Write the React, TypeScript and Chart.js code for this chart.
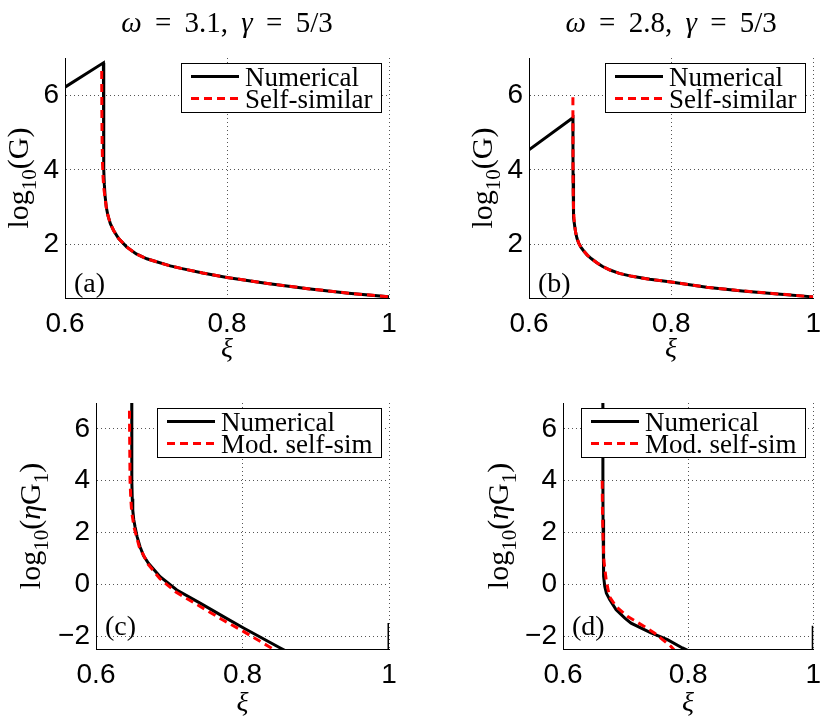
import { Chart, registerables } from "chart.js";
import { useEffect, useRef } from "react";

Chart.register(...registerables);

// ---- values ----
const xiTicks = [0.6, 0.8, 1];
const gTicks = [2, 4, 6];
const etaTicks = [-2, 0, 2, 4, 6];
const omegas = [3.1, 2.8];
const gammaText = "5/3";
const legendTop = ["Numerical", "Self-similar"];
const legendBottom = ["Numerical", "Mod. self-sim"];
const panelTags = ["(a)", "(b)", "(c)", "(d)"];

// (a) omega = 3.1, log10(G)
const aNumXi = [0.6, 0.6474, 0.6476, 0.6478, 0.6481, 0.6486, 0.6495, 0.651, 0.653, 0.656, 0.66, 0.666, 0.676, 0.688, 0.701, 0.713, 0.73, 0.746, 0.77, 0.8, 0.85, 0.9, 0.95, 1.0];
const aNumG = [6.22, 6.87, 5.6, 4.6, 4.0, 3.6, 3.3, 3.0, 2.78, 2.56, 2.38, 2.17, 1.94, 1.75, 1.62, 1.54, 1.43, 1.35, 1.24, 1.12, 0.96, 0.82, 0.7, 0.6];
const aSimXi = [0.6453, 0.6455, 0.6458, 0.6463, 0.647, 0.648, 0.6495, 0.651, 0.653, 0.656, 0.66, 0.666, 0.676, 0.688, 0.701, 0.713, 0.73, 0.746, 0.77, 0.8, 0.85, 0.9, 0.95, 1.0];
const aSimG = [6.65, 5.6, 4.8, 4.2, 3.8, 3.5, 3.25, 3.0, 2.78, 2.56, 2.38, 2.17, 1.94, 1.75, 1.62, 1.54, 1.43, 1.35, 1.24, 1.12, 0.96, 0.82, 0.7, 0.6];

// (b) omega = 2.8, log10(G)
const bNumXi = [0.6, 0.6618, 0.6619, 0.662, 0.6622, 0.6626, 0.6633, 0.6643, 0.6657, 0.6675, 0.67, 0.673, 0.677, 0.682, 0.688, 0.695, 0.703, 0.714, 0.727, 0.745, 0.77, 0.8, 0.85, 0.9, 0.95, 1.0];
const bNumG = [4.54, 5.4, 4.6, 3.9, 3.4, 3.0, 2.72, 2.5, 2.32, 2.17, 2.04, 1.93, 1.83, 1.72, 1.62, 1.52, 1.42, 1.32, 1.23, 1.15, 1.07, 1.0, 0.86, 0.76, 0.68, 0.6];
const bSimXi = [0.6618, 0.6618, 0.6619, 0.662, 0.6622, 0.6626, 0.6633, 0.6643, 0.6657, 0.6675, 0.67, 0.673, 0.677, 0.682, 0.688, 0.695, 0.703, 0.714, 0.727, 0.745, 0.77, 0.8, 0.85, 0.9, 0.95, 1.0];
const bSimG = [5.95, 5.4, 4.6, 3.9, 3.4, 3.0, 2.72, 2.5, 2.32, 2.17, 2.04, 1.93, 1.83, 1.72, 1.62, 1.52, 1.42, 1.32, 1.23, 1.15, 1.07, 1.0, 0.86, 0.76, 0.68, 0.6];

// (c) omega = 3.1, log10(eta G1)
const cNumXi = [0.6488, 0.6488, 0.649, 0.6495, 0.6502, 0.6515, 0.6533, 0.656, 0.6601, 0.665, 0.6716, 0.6875, 0.7103, 0.7421, 0.774, 0.8014, 0.8516, 0.9, 0.95, 1.0, 1.0];
const cNumEta = [7.2, 5.5, 4.0, 3.3, 2.86, 2.5, 2.22, 1.85, 1.45, 1.1, 0.81, 0.29, -0.22, -0.73, -1.25, -1.69, -2.46, -3.2, -3.9, -4.6, -1.5];
const cSimXi = [0.6457, 0.646, 0.6465, 0.6475, 0.6487, 0.652, 0.659, 0.671, 0.687, 0.709, 0.74, 0.772, 0.8, 0.8417, 0.86];
const cSimEta = [6.7, 5.5, 4.0, 3.3, 2.8, 2.2, 1.45, 0.78, 0.22, -0.3, -0.82, -1.36, -1.8, -2.5, -2.8];

// (d) omega = 2.8, log10(eta G1)
const dNumXi = [0.6637, 0.6638, 0.664, 0.6645, 0.6653, 0.6668, 0.6694, 0.6748, 0.685, 0.6989, 0.7088, 0.7407, 0.767, 0.791, 0.84, 0.92, 1.0, 1.0];
const dNumEta = [7.2, 4.0, 2.5, 1.2, 0.3, -0.09, -0.35, -0.6, -0.99, -1.31, -1.5, -1.88, -2.14, -2.46, -3.0, -3.8, -4.5, -1.6];
const dSimXi = [0.6627, 0.663, 0.6638, 0.6653, 0.669, 0.6743, 0.685, 0.7035, 0.73, 0.746, 0.7725, 0.78];
const dSimEta = [4.0, 3.0, 2.0, 0.93, 0.17, -0.48, -0.86, -1.25, -1.63, -1.88, -2.4, -2.6];

// ---- styling / layout ----
const SERIF = '"Liberation Serif", "Times New Roman", serif';
const SANS = '"Liberation Sans", Arial, Helvetica, sans-serif';
const GRID = "#555";

type Part = { t: string; it?: boolean; sub?: boolean };
type Box = { left: number; top: number; width: number; height: number; l: number; r: number; t: number; b: number; yLabelX: number; xLabelGap: number; tagLift: number; titleY?: number };

const boxes: Box[] = [
    { left: 0, top: 0, width: 415, height: 365, l: 65, r: 389, t: 58, b: 298, yLabelX: 28, xLabelGap: 59, tagLift: 6, titleY: 32 },
    { left: 415, top: 0, width: 415, height: 365, l: 114, r: 400, t: 58, b: 298, yLabelX: 77, xLabelGap: 59, tagLift: 6, titleY: 32 },
    { left: 0, top: 365, width: 415, height: 358, l: 96, r: 389, t: 38, b: 284, yLabelX: 40, xLabelGap: 62, tagLift: 14 },
    { left: 415, top: 365, width: 415, height: 358, l: 148, r: 400, t: 38, b: 284, yLabelX: 93, xLabelGap: 62, tagLift: 14 },
];

const gLabel: Part[] = [{ t: "log" }, { t: "10", sub: true }, { t: "(G)" }];
const etaLabel: Part[] = [{ t: "log" }, { t: "10", sub: true }, { t: "(" }, { t: "η", it: true }, { t: "G" }, { t: "1", sub: true }, { t: ")" }];

const titleParts = (omega: number): Part[] => [
    { t: "ω", it: true },
    { t: ` = ${omega}, ` },
    { t: "γ", it: true },
    { t: ` = ${gammaText}` },
];

type Spec = {
    box: Box;
    num: { x: number; y: number }[];
    sim: { x: number; y: number }[];
    legend: string[];
    yMin: number;
    yMax: number;
    yTicks: number[];
    yLabel: Part[];
    title?: Part[];
    tag: string;
};

const pts = (xs: number[], ys: number[]) => xs.map((x, i) => ({ x, y: ys[i] }));

const specs: Spec[] = [
    { box: boxes[0], num: pts(aNumXi, aNumG), sim: pts(aSimXi, aSimG), legend: legendTop, yMin: 0.57, yMax: 7, yTicks: gTicks, yLabel: gLabel, title: titleParts(omegas[0]), tag: panelTags[0] },
    { box: boxes[1], num: pts(bNumXi, bNumG), sim: pts(bSimXi, bSimG), legend: legendTop, yMin: 0.57, yMax: 7, yTicks: gTicks, yLabel: gLabel, title: titleParts(omegas[1]), tag: panelTags[1] },
    { box: boxes[2], num: pts(cNumXi, cNumEta), sim: pts(cSimXi, cSimEta), legend: legendBottom, yMin: -2.5, yMax: 7, yTicks: etaTicks, yLabel: etaLabel, tag: panelTags[2] },
    { box: boxes[3], num: pts(dNumXi, dNumEta), sim: pts(dSimXi, dSimEta), legend: legendBottom, yMin: -2.5, yMax: 7, yTicks: etaTicks, yLabel: etaLabel, tag: panelTags[3] },
];

// draw a run of text pieces (italic / subscript), centred on x, baseline y
function drawRich(ctx: CanvasRenderingContext2D, parts: Part[], x: number, y: number, size: number, rot = 0, spaceExtra = 0) {
    const pieces: { s: string; font: string; dy: number }[] = [];
    for (const p of parts) {
        const fs = p.sub ? Math.round(size * 0.7) : size;
        const font = `${p.it ? "italic " : ""}${fs}px ${SERIF}`;
        for (const s of p.t.split(/( )/)) if (s) pieces.push({ s, font, dy: p.sub ? size * 0.25 : 0 });
    }
    let total = 0;
    const widths = pieces.map((pc) => {
        ctx.font = pc.font;
        const w = ctx.measureText(pc.s).width + (pc.s === " " ? spaceExtra : 0);
        total += w;
        return w;
    });
    ctx.save();
    ctx.translate(x, y);
    ctx.rotate(rot);
    ctx.textAlign = "left";
    ctx.textBaseline = "alphabetic";
    ctx.fillStyle = "#000";
    let cx = -total / 2;
    pieces.forEach((pc, i) => {
        ctx.font = pc.font;
        if (pc.s !== " ") ctx.fillText(pc.s, cx, pc.dy);
        cx += widths[i];
    });
    ctx.restore();
}

function decorPlugin(spec: Spec) {
    return {
        id: "decor",
        afterDraw(chart: Chart) {
            const { ctx, chartArea: ca } = chart;
            const midX = (ca.left + ca.right) / 2;
            if (spec.title && spec.box.titleY) drawRich(ctx, spec.title, midX, spec.box.titleY, 29, 0, 6);
            drawRich(ctx, spec.yLabel, spec.box.yLabelX, (ca.top + ca.bottom) / 2, 30, -Math.PI / 2);
            drawRich(ctx, [{ t: "ξ", it: true }], midX, ca.bottom + spec.box.xLabelGap, 28);

            ctx.save();
            ctx.font = `28px ${SERIF}`;
            ctx.fillStyle = "#000";
            ctx.textAlign = "left";
            ctx.textBaseline = "alphabetic";
            ctx.fillText(spec.tag, ca.left + 9, ca.bottom - spec.box.tagLift);

            // legend box in the upper right corner
            const ds = chart.data.datasets as any[];
            ctx.font = `27px ${SERIF}`;
            const textW = Math.max(...ds.map((d) => ctx.measureText(d.label).width));
            const w = Math.round(64 + textW + 9);
            const bx = Math.round(ca.right - 8 - w);
            const by = Math.round(ca.top + 5);
            ctx.fillStyle = "#fff";
            ctx.fillRect(bx, by, w, 49);
            ctx.strokeStyle = "#000";
            ctx.lineWidth = 1;
            ctx.strokeRect(bx + 0.5, by + 0.5, w, 49);
            ds.forEach((d, i) => {
                const base = by + 23 + i * 22;
                ctx.beginPath();
                ctx.setLineDash(d.borderDash || []);
                ctx.lineWidth = 3;
                ctx.strokeStyle = d.borderColor;
                ctx.moveTo(bx + 10, base - 9.5);
                ctx.lineTo(bx + 58, base - 9.5);
                ctx.stroke();
                ctx.setLineDash([]);
                ctx.fillStyle = "#000";
                ctx.fillText(d.label, bx + 64, base);
            });
            ctx.restore();
        },
    };
}

const fmtTick = (v: number) => String(v).replace("-", "\u2212");

function Panel({ spec }: { spec: Spec }) {
    const canvasRef = useRef<HTMLCanvasElement | null>(null);
    const box = spec.box;

    useEffect(() => {
        const ctx = canvasRef.current?.getContext("2d");
        if (!ctx) return;
        const chart = new Chart(ctx, {
            type: "line",
            data: {
                datasets: [
                    { label: spec.legend[0], data: spec.num, borderColor: "#000", borderWidth: 3, pointRadius: 0, fill: false, tension: 0, order: 2 },
                    { label: spec.legend[1], data: spec.sim, borderColor: "#ff0000", borderWidth: 3, borderDash: [8, 5], pointRadius: 0, fill: false, tension: 0, order: 1 },
                ],
            },
            options: {
                responsive: false,
                animation: false,
                layout: { padding: { left: 0, top: box.t, right: box.width - box.r, bottom: 0 } },
                plugins: { legend: { display: false }, tooltip: { enabled: false }, title: { display: false } },
                scales: {
                    x: {
                        type: "linear",
                        min: 0.6,
                        max: 1,
                        afterBuildTicks: (s: any) => {
                            s.ticks = xiTicks.map((v) => ({ value: v }));
                        },
                        afterFit: (s: any) => {
                            s.height = box.height - box.b;
                        },
                        grid: { color: GRID, lineWidth: 1, drawTicks: false },
                        border: { display: true, color: "#000", width: 1, dash: [1, 3] },
                        ticks: { color: "#000", font: { family: SANS, size: 28 }, padding: 9, maxRotation: 0, autoSkip: false, callback: (v: any) => fmtTick(Number(v)) },
                    },
                    y: {
                        type: "linear",
                        min: spec.yMin,
                        max: spec.yMax,
                        afterBuildTicks: (s: any) => {
                            s.ticks = spec.yTicks.map((v) => ({ value: v }));
                        },
                        afterFit: (s: any) => {
                            s.width = box.l;
                        },
                        grid: { color: GRID, lineWidth: 1, drawTicks: false },
                        border: { display: true, color: "#000", width: 1, dash: [1, 3] },
                        ticks: { color: "#000", font: { family: SANS, size: 28 }, padding: 6, autoSkip: false, callback: (v: any) => fmtTick(Number(v)) },
                    },
                },
            },
            plugins: [decorPlugin(spec)],
        });
        return () => chart.destroy();
    }, [spec]);

    return (
        <canvas
            ref={canvasRef}
            width={box.width}
            height={box.height}
            style={{ position: "absolute", left: box.left, top: box.top, width: box.width, height: box.height }}
        />
    );
}

export default function App() {
    return (
        <div style={{ position: "absolute", left: 0, top: 0, width: 830, height: 723, background: "#fff", overflow: "hidden" }}>
            {specs.map((s) => (
                <Panel key={s.tag} spec={s} />
            ))}
        </div>
    );
}
